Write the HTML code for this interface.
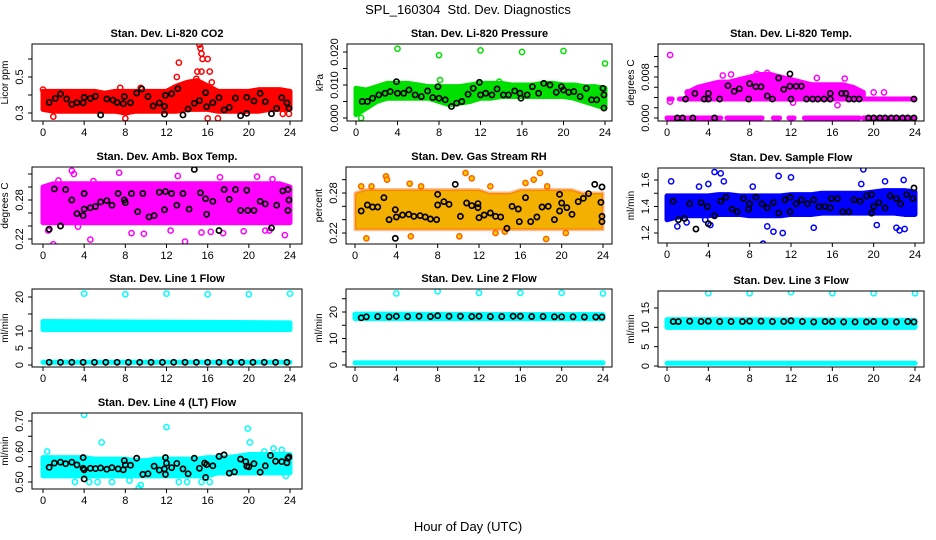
<!DOCTYPE html>
<html><head><meta charset="utf-8"><style>
body{margin:0;background:#fff;}
svg{display:block;font-family:"Liberation Sans",Arial,sans-serif;}
</style></head><body>
<svg id="chart" width="936" height="540" viewBox="0 0 936 540" xmlns="http://www.w3.org/2000/svg">
<rect width="936" height="540" fill="#fff"/>
<text x="468" y="14" font-size="13" text-anchor="middle">SPL_160304&#160; Std. Dev. Diagnostics</text>
<text x="468" y="531" font-size="13" text-anchor="middle">Hour of Day (UTC)</text>
</svg>
<script>
// ---------- data (hours, values) ----------
const hourGrid=[0,1,2,3,4,5,6,7,8,9,10,11,12,13,14,15,16,17,18,19,20,21,22,23,24];
const co2Lo=[.32,.31,.31,.31,.31,.31,.31,.31,.30,.31,.31,.31,.31,.31,.32,.32,.32,.31,.31,.31,.31,.31,.32,.32,.32];
const co2Hi=[.42,.42,.42,.42,.42,.42,.41,.42,.42,.42,.42,.42,.42,.45,.47,.48,.45,.42,.42,.42,.42,.43,.43,.43,.42];
const co2Out=[[15.2,.68],[15.3,.66],[15.4,.63],[15.5,.60],[16.0,.60],[13.2,.58],[13.0,.50],[15.0,.53],[15.4,.53],[16.2,.53],[7.5,.44],[1.0,.28],[8.0,.27],[16.0,.27],[17.0,.27],[23.3,.295],[23.9,.295],[0.0,.43],[9.5,.44],[12.8,.44],[14.9,.49],[16.4,.47]];
const co2Black=[[0.6,.359],[1.2,.381],[1.7,.406],[2.3,.378],[2.8,.348],[3.3,.357],[3.9,.356],[4.0,.387],[4.6,.381],[5.1,.393],[5.6,.289],[6.2,.378],[6.8,.372],[7.2,.359],[7.8,.352],[7.9,.391],[8.5,.357],[9.1,.411],[9.6,.433],[10.2,.391],[10.7,.339],[11.3,.356],[11.8,.337],[11.8,.294],[11.9,.398],[12.5,.407],[13.1,.435],[13.6,.289],[14.1,.322],[14.7,.354],[15.2,.369],[15.8,.413],[15.9,.335],[16.5,.357],[17.1,.385],[17.6,.317],[18.1,.331],[18.7,.383],[19.2,.285],[19.8,.298],[19.8,.387],[20.5,.367],[21.1,.409],[21.6,.363],[22.2,.296],[22.7,.326],[23.2,.385],[23.7,.356],[23.9,.326]];

const presLo=[.001,.003,.005,.006,.006,.006,.006,.006,.005,.004,.0045,.005,.006,.006,.0065,.0065,.0065,.0065,.0065,.0065,.0065,.006,.005,.004,.003];
const presHi=[.009,.0085,.0095,.0105,.0105,.0105,.010,.0095,.0095,.0095,.0095,.010,.0105,.0105,.0105,.010,.010,.010,.0105,.0105,.010,.010,.0095,.0095,.009];
const presOut=[[4,.021],[8,.019],[12,.0205],[16,.020],[20,.0203],[24,.0165],[8.1,.0115],[0.5,0],[13.8,.011]];
const presBlack=[[0.6,.005],[1.1,.005],[1.6,.006],[2.2,.007],[2.8,.0075],[3.3,.008],[3.9,.011],[4,.0075],[4.6,.0075],[5.1,.0085],[5.7,.007],[6.3,.0065],[6.9,.0082],[7.4,.0062],[7.9,.0095],[8,.006],[8.6,.0055],[9.2,.0035],[9.7,.0045],[10.2,.005],[10.8,.0072],[11.3,.009],[11.9,.0108],[12.0,.007],[12.5,.0075],[13.1,.007],[13.6,.0088],[14.2,.007],[14.7,.007],[15.3,.0082],[15.8,.0075],[15.9,.006],[16.5,.007],[17.0,.0095],[17.6,.0075],[18.1,.0105],[18.7,.01],[19.3,.0078],[19.8,.0095],[20,.0085],[20.5,.0078],[21.0,.008],[21.6,.0065],[22.2,.009],[22.7,.0055],[23.2,.0055],[23.8,.009],[23.9,.007],[23.9,.003]];

const tempBandHours=[2,3,4,5,6,7,8,9,10,11,12,13,14,15,16,17,18,19];
const tempLo=[.0045,.0045,.0045,.0045,.0045,.0045,.0045,.0045,.0045,.0045,.0045,.0045,.0045,.0045,.0045,.0045,.0045,.0045];
const tempHi=[.005,.006,.0065,.007,.007,.0075,.008,.0085,.0085,.008,.0075,.007,.0065,.0065,.0065,.0065,.006,.005];
const tempStripes=[[0,5.2,0],[5.8,9.2,0],[10.3,10.9,0],[11.8,12.3,0],[13.3,18.6,0],[19,24,0],[0.2,0.5,.0037],[1.2,24,.0037]];
const tempOut=[[0.3,.0123],[0.3,.0032],[6.2,.0085],[5.4,.0083],[17.2,.0077],[14.5,.0078],[20.0,.005],[21.0,.005],[16.5,.0025],[12.2,.003],[2,.005],[9.7,.0088],[8.7,.0086]];
const tempBlack=[[1,0],[1.5,0],[2.5,0],[4.6,0],[19.5,0],[20,0],[20.6,0],[21.1,0],[21.7,0],[22.2,0],[22.8,0],[23.3,0],[23.9,0],[1.8,.0037],[3.6,.0037],[4,.0037],[5.1,.0037],[7.9,.0037],[10.2,.0037],[12,.0037],[13.5,.0037],[14.1,.0037],[14.6,.0037],[15.2,.0037],[15.8,.0037],[17.6,.0037],[18.1,.0037],[18.6,.0037],[23.9,.0037],[2.7,.0048],[4,.0048],[5.9,.0063],[6.5,.0052],[7,.0057],[8,.0067],[8.6,.0061],[9.1,.0061],[9.7,.0043],[10.8,.0078],[11.3,.0056],[11.9,.0086],[11.9,.0062],[12.5,.0062],[13,.0062],[15.8,.0048],[16.9,.0048],[17.3,.0048]];

const ambLo=[.245,.245,.245,.245,.245,.245,.245,.245,.245,.245,.245,.245,.245,.245,.245,.245,.245,.245,.245,.245,.245,.245,.245,.245,.245];
const ambHi=[.30,.305,.305,.305,.305,.305,.305,.305,.305,.305,.305,.305,.305,.305,.305,.305,.305,.305,.305,.305,.305,.305,.305,.305,.30];
const ambOut=[[1,.212],[2.8,.325],[3,.32],[4.6,.219],[7.4,.322],[8.6,.229],[9.8,.228],[13.8,.216],[15.4,.23],[16.3,.231],[17.5,.229],[19.5,.232],[22,.233],[23.5,.226],[20.8,.316],[12.4,.233],[21.6,.233],[0.5,.233],[3.4,.239],[1.5,.31],[17.2,.315],[22.3,.312],[13.1,.317],[4.9,.309]];
const ambBlack=[[0.6,.235],[1.1,.297],[1.7,.24],[2.2,.296],[2.8,.28],[3.3,.259],[3.9,.256],[4.0,.29],[4.0,.266],[4.6,.268],[5.1,.27],[5.6,.277],[6.2,.279],[6.7,.272],[7.3,.29],[7.9,.28],[8.0,.276],[8.6,.29],[9.2,.262],[9.7,.29],[10.3,.254],[10.8,.256],[11.3,.292],[11.8,.265],[11.9,.293],[12.5,.29],[13.0,.272],[13.6,.29],[14.2,.266],[14.7,.327],[15.3,.291],[15.8,.282],[15.9,.258],[16.5,.278],[17.1,.233],[17.6,.296],[18.1,.281],[18.7,.296],[19.2,.264],[19.8,.295],[19.9,.264],[20.5,.264],[21.1,.278],[21.6,.274],[22.2,.237],[22.7,.272],[23.3,.294],[23.8,.296],[23.8,.264],[23.9,.28]];

const rhLo=[.225,.225,.225,.225,.225,.225,.225,.225,.225,.225,.225,.225,.225,.225,.225,.225,.225,.225,.225,.225,.225,.225,.225,.225,.225];
const rhHi=[.28,.285,.285,.285,.285,.285,.285,.285,.285,.285,.285,.285,.285,.28,.28,.28,.285,.285,.285,.285,.285,.285,.28,.28,.28];
const rhOut=[[0.6,.29],[1.6,.29],[3,.305],[3.1,.3],[5.3,.294],[6.4,.29],[10.7,.31],[11.3,.302],[13.1,.29],[17.9,.31],[17.3,.3],[16.5,.295],[18.6,.29],[1.1,.212],[5.4,.215],[10.1,.215],[18.5,.211],[20.4,.22],[14.5,.222],[13.6,.22]];
const rhBlack=[[0.6,.253],[1.2,.262],[1.7,.259],[2.2,.259],[2.8,.273],[3.3,.24],[3.9,.212],[3.9,.255],[4.0,.244],[4.6,.247],[5.2,.248],[5.7,.245],[6.3,.246],[6.8,.244],[7.3,.241],[7.9,.24],[8.0,.262],[8.0,.278],[8.6,.267],[9.1,.263],[9.7,.293],[10.2,.245],[10.8,.265],[11.3,.261],[11.9,.264],[11.9,.258],[12.0,.243],[12.5,.247],[13.1,.25],[13.6,.245],[14.1,.244],[14.7,.227],[15.2,.26],[15.8,.256],[15.9,.237],[16.5,.273],[17.0,.237],[17.6,.244],[18.1,.259],[18.7,.26],[19.3,.24],[19.8,.253],[19.8,.278],[20.0,.265],[20.5,.258],[21.0,.248],[21.6,.267],[22.1,.272],[22.6,.279],[23.2,.293],[23.8,.266],[23.9,.245],[23.9,.237],[23.9,.289]];

const flowLo=[1.30,1.32,1.33,1.33,1.33,1.34,1.34,1.34,1.33,1.33,1.33,1.33,1.34,1.34,1.34,1.35,1.35,1.35,1.35,1.35,1.35,1.35,1.35,1.34,1.34];
const flowHi=[1.48,1.48,1.48,1.48,1.48,1.49,1.49,1.48,1.48,1.48,1.48,1.48,1.49,1.49,1.49,1.50,1.50,1.50,1.50,1.50,1.51,1.52,1.52,1.52,1.51];
const flowOut=[[0.4,1.59],[1,1.25],[3.1,1.55],[4,1.57],[4.6,1.66],[5.2,1.65],[5.5,1.59],[9.3,1.12],[9.7,1.25],[10.3,1.21],[10.8,1.63],[11.2,1.2],[12,1.62],[14.2,1.24],[18.8,1.57],[19,1.68],[22.2,1.24],[22.5,1.22],[23,1.23],[22.9,1.6],[21.1,1.59],[8.3,1.55],[4.2,1.26],[20.3,1.26],[1.9,1.28],[3.7,1.3]];
const flowBlack=[[0.6,1.44],[1.1,1.3],[1.7,1.31],[2.2,1.42],[2.8,1.23],[3.3,1.43],[3.9,1.40],[4.0,1.27],[4.6,1.33],[5.2,1.44],[5.7,1.47],[6.3,1.38],[6.8,1.36],[7.4,1.46],[7.9,1.38],[8.0,1.42],[8.6,1.47],[9.2,1.42],[9.7,1.39],[10.3,1.43],[10.8,1.35],[11.4,1.45],[11.9,1.36],[11.9,1.47],[12.5,1.42],[13.0,1.45],[13.6,1.42],[14.2,1.45],[14.7,1.40],[15.3,1.40],[15.8,1.39],[15.9,1.46],[16.5,1.46],[17.0,1.36],[17.6,1.36],[18.1,1.45],[18.7,1.44],[19.3,1.48],[19.8,1.49],[19.8,1.35],[20.0,1.40],[20.5,1.43],[21.1,1.39],[21.6,1.48],[22.2,1.46],[22.6,1.42],[23.2,1.49],[23.8,1.46],[23.9,1.54]];

const lineBandHours=[0,24];
const l1Lo=[10.4,10.4], l1Hi=[12.8,12.4];
const l1Stripes=[[0,24,0.8]];
const l1Out=[[4,21],[8,20.8],[12,21],[16,20.8],[20,20.8],[24,21]];
const l1Black=[[0.6,.8],[1.7,.8],[2.8,.8],[3.9,.8],[5.0,.8],[6.1,.8],[7.2,.8],[8.3,.8],[9.4,.8],[10.5,.8],[11.6,.8],[12.7,.8],[13.8,.8],[14.9,.8],[16.0,.8],[17.1,.8],[18.2,.8],[19.3,.8],[20.4,.8],[21.5,.8],[22.6,.8],[23.7,.8]];
const l2Lo=[17.5,17.5], l2Hi=[19.2,19.0];
const l2Stripes=[[0,24,0.8]];
const l2Out=[[4,27],[8,27.8],[12,27.2],[16,27.2],[20,27.2],[24,27]];
const l2Black=[[0.6,17.8],[1.1,18.2],[2.2,18.3],[3.3,18.2],[4.0,18.4],[5.1,18.3],[6.2,18.4],[7.3,18.3],[8.0,18.6],[9.1,18.4],[10.2,18.4],[11.3,18.3],[12.0,18.4],[13.1,18.3],[14.2,18.3],[15.3,18.4],[16.0,18.4],[17.1,18.3],[18.2,18.3],[19.3,18.2],[20.0,18.2],[21.1,18.2],[22.2,18.1],[23.3,18.1],[23.9,18.1]];
const l3Lo=[10.0,10.0], l3Hi=[12.0,11.8];
const l3Stripes=[[0,24,0.7]];
const l3Out=[[4,18.8],[8,18.8],[12,19.1],[16,18.8],[20,18.8],[24,18.8]];
const l3Black=[[0.6,11.5],[1.1,11.5],[2.2,11.6],[3.3,11.5],[4.0,11.6],[5.1,11.5],[6.2,11.5],[7.3,11.5],[8.0,11.6],[9.1,11.6],[10.2,11.5],[11.3,11.5],[12.0,11.7],[13.1,11.5],[14.2,11.4],[15.3,11.5],[16.0,11.5],[17.1,11.4],[18.2,11.4],[19.3,11.4],[20.0,11.5],[21.1,11.4],[22.2,11.4],[23.3,11.5],[23.9,11.4]];
const l4Lo=[.52,.52,.52,.52,.52,.52,.52,.52,.52,.52,.52,.52,.52,.52,.52,.52,.52,.53,.53,.53,.53,.53,.53,.53,.53];
const l4Hi=[.58,.58,.58,.58,.58,.575,.575,.575,.575,.57,.57,.575,.575,.575,.575,.575,.58,.58,.58,.585,.59,.59,.59,.59,.59];
const l4Out=[[4,.72],[12,.68],[19.9,.675],[5.7,.63],[20.1,.63],[0.4,.60],[22.4,.61],[23.2,.605],[21.5,.60],[9.3,.48],[9.5,.49],[4.5,.50],[5.3,.50],[6.7,.50],[3.1,.50],[13.2,.50],[14,.50],[15.4,.50],[16.2,.50],[8.4,.505],[23.6,.52],[1.6,.525]];
const l4Black=[[0.6,.548],[1.1,.562],[1.7,.565],[2.2,.56],[2.8,.565],[3.3,.556],[3.9,.58],[3.9,.545],[4.0,.54],[4.0,.51],[4.6,.545],[5.1,.544],[5.6,.546],[6.2,.542],[6.7,.547],[7.3,.543],[7.8,.54],[7.9,.57],[8.0,.556],[8.5,.555],[9.1,.578],[9.7,.525],[10.2,.527],[10.8,.552],[11.3,.539],[11.8,.543],[11.9,.58],[12.0,.562],[11.9,.525],[12.5,.547],[13.0,.561],[13.6,.543],[14.1,.527],[14.7,.578],[15.2,.545],[15.8,.515],[15.7,.562],[15.9,.557],[16.5,.553],[17.1,.584],[17.6,.589],[18.1,.529],[18.6,.533],[19.2,.575],[19.7,.567],[19.8,.552],[20.0,.55],[20.5,.56],[21.1,.532],[21.6,.553],[22.1,.587],[22.6,.568],[23.2,.567],[23.7,.563],[23.8,.578],[23.9,.582]];

const xTicks=[0,4,8,12,16,20,24];
const xTickLabels=["0","4","8","12","16","20","24"];

// ---------- layout ----------
const panels=[
 {id:"co2",title:"Stan. Dev. Li-820 CO2",ylab:"Licor ppm",box:[32,44,302,121],xr:[43,290],ya:[0.3,113],yb:[0.5,77],ticks:[0.3,0.4,0.5,0.6],tl:["0.3","","0.5",""],col:"#ff0000",bx:hourGrid,lo:co2Lo,hi:co2Hi,out:co2Out,blk:co2Black},
 {id:"pressure",title:"Stan. Dev. Li-820 Pressure",ylab:"kPa",box:[347,44,612,121],xr:[356,605],ya:[0,118],yb:[0.02,52],ticks:[0,.005,.01,.015,.02],tl:["0.000","","0.010","","0.020"],col:"#00e000",bx:hourGrid,lo:presLo,hi:presHi,out:presOut,blk:presBlack},
 {id:"li820-temp",title:"Stan. Dev. Li-820 Temp.",ylab:"degrees C",box:[658,44,924,121],xr:[667,915],ya:[0,118],yb:[0.008,77],ticks:[0,.002,.004,.006,.008,.01,.012],tl:["0.000","","","","0.008","",""],col:"#ff00ff",bx:tempBandHours,lo:tempLo,hi:tempHi,stripes:tempStripes,out:tempOut,blk:tempBlack},
 {id:"amb-box-temp",title:"Stan. Dev. Amb. Box Temp.",ylab:"degrees C",box:[32,167,302,244],xr:[43,290],ya:[.22,239],yb:[.28,200],ticks:[.22,.24,.26,.28,.30,.32],tl:["0.22","","","0.28","",""],col:"#ff00ff",bx:hourGrid,lo:ambLo,hi:ambHi,out:ambOut,blk:ambBlack},
 {id:"gas-stream-rh",title:"Stan. Dev. Gas Stream RH",ylab:"percent",box:[346,167,612,244],xr:[355,603],ya:[.22,233],yb:[.28,193],ticks:[.22,.24,.26,.28,.30],tl:["0.22","","","0.28",""],col:"#f4b000",ocol:"#ff6000",bx:hourGrid,lo:rhLo,hi:rhHi,out:rhOut,blk:rhBlack},
 {id:"sample-flow",title:"Stan. Dev. Sample Flow",ylab:"ml/min",box:[658,168,924,243],xr:[667,915],ya:[1.2,233],yb:[1.6,180],ticks:[1.2,1.3,1.4,1.5,1.6],tl:["1.2","","1.4","","1.6"],col:"#0000ff",bx:hourGrid,lo:flowLo,hi:flowHi,out:flowOut,blk:flowBlack},
 {id:"line1-flow",title:"Stan. Dev. Line 1 Flow",ylab:"ml/min",box:[32,289,302,367],xr:[43,290],ya:[0,365],yb:[20,297],ticks:[0,5,10,15,20],tl:["0","5","10","","20"],col:"#00ffff",bx:lineBandHours,lo:l1Lo,hi:l1Hi,stripes:l1Stripes,out:l1Out,blk:l1Black},
 {id:"line2-flow",title:"Stan. Dev. Line 2 Flow",ylab:"ml/min",box:[346,289,612,367],xr:[355,603],ya:[0,365],yb:[20,312],ticks:[0,5,10,15,20,25],tl:["0","","10","","20",""],col:"#00ffff",bx:lineBandHours,lo:l2Lo,hi:l2Hi,stripes:l2Stripes,out:l2Out,blk:l2Black},
 {id:"line3-flow",title:"Stan. Dev. Line 3 Flow",ylab:"ml/min",box:[658,291,924,367],xr:[667,915],ya:[0,366],yb:[15,308],ticks:[0,5,10,15],tl:["0","5","10","15"],col:"#00ffff",bx:lineBandHours,lo:l3Lo,hi:l3Hi,stripes:l3Stripes,out:l3Out,blk:l3Black},
 {id:"line4-flow",title:"Stan. Dev. Line 4 (LT) Flow",ylab:"ml/min",box:[32,413,302,489],xr:[43,290],ya:[.5,482],yb:[.7,421],ticks:[.5,.55,.6,.65,.7],tl:["0.50","","0.60","","0.70"],col:"#00ffff",bx:hourGrid,lo:l4Lo,hi:l4Hi,out:l4Out,blk:l4Black}
];

const NS="http://www.w3.org/2000/svg";
const svg=document.getElementById("chart");
function mk(tag,attrs,parent){const e=document.createElementNS(NS,tag);for(const k in attrs)e.setAttribute(k,attrs[k]);(parent||svg).appendChild(e);return e;}

panels.forEach(p=>{
  const g=mk("g",{});
  
  
  const [L,T,R,B]=p.box;
  const sx=h=>p.xr[0]+h*(p.xr[1]-p.xr[0])/24;
  const k=(p.ya[1]-p.yb[1])/(p.yb[0]-p.ya[0]);
  const sy=v=>p.ya[1]-(v-p.ya[0])*k;
  const clip=mk("clipPath",{id:"c-"+p.id},g);
  mk("rect",{x:L,y:T,width:R-L,height:B-T},clip);
  const data=mk("g",{"clip-path":"url(#c-"+p.id+")"},g);
  let pts=[];
  p.bx.forEach((h,i)=>pts.push(sx(h)+","+sy(p.hi[i])));
  for(let i=p.bx.length-1;i>=0;i--)pts.push(sx(p.bx[i])+","+sy(p.lo[i]));
  const band=mk("polygon",{points:pts.join(" "),fill:p.col,stroke:p.col,"stroke-width":5,"stroke-linejoin":"round"},data);
  
  
  if(p.ocol){band.setAttribute('stroke',p.ocol);band.setAttribute('stroke-opacity','0.45');band.setAttribute('stroke-width','3');}
  (p.stripes||[]).forEach(s=>{
    const l=mk("line",{x1:sx(s[0]),x2:sx(s[1]),y1:sy(s[2]),y2:sy(s[2]),stroke:p.col,"stroke-width":5,"stroke-linecap":"round"},data);
    
    
  });
  p.out.forEach(d=>{
    const c=mk("circle",{cx:sx(d[0]),cy:sy(d[1]),r:2.6,fill:p.ocol?"#ffd000":"none",stroke:p.ocol||p.col,"stroke-width":1.5},data);
    
    
  });
  p.blk.forEach(d=>{
    const c=mk("circle",{cx:sx(d[0]),cy:sy(d[1]),r:2.6,fill:"none",stroke:"#000","stroke-width":1.7},data);
    
    
  });
  const bx=mk("rect",{x:L,y:T,width:R-L,height:B-T,fill:"none",stroke:"#000","stroke-width":1},g);
  
  
  const t=mk("text",{x:(L+R)/2,y:T-7,"font-size":11,"font-weight":"bold","text-anchor":"middle"},g);
  t.textContent=p.title;
  
  
  const xa=mk("g",{},g);
  
  
  mk("line",{x1:sx(0),x2:sx(24),y1:B,y2:B,stroke:"#000"},xa);
  xTicks.forEach((h,i)=>{
    mk("line",{x1:sx(h),x2:sx(h),y1:B,y2:B+4,stroke:"#000"},xa);
    const tx=mk("text",{x:sx(h),y:B+15,"font-size":11,"text-anchor":"middle"},xa);
    tx.textContent=xTickLabels[i];
    
    
  });
  const ya=mk("g",{},g);
  
  
  mk("line",{x1:L,x2:L,y1:sy(p.ticks[0]),y2:sy(p.ticks[p.ticks.length-1]),stroke:"#000"},ya);
  p.ticks.forEach((v,i)=>{
    const y=sy(v);
    mk("line",{x1:L-4,x2:L,y1:y,y2:y,stroke:"#000"},ya);
    if(p.tl[i]){
      const tx=mk("text",{x:L-9,y:y,"font-size":11,"text-anchor":"middle",transform:"rotate(-90 "+(L-9)+" "+y+")"},ya);
      tx.textContent=p.tl[i];
      
      
    }
  });
  const yl=mk("text",{x:L-24,y:(T+B)/2,"font-size":10,"text-anchor":"middle",transform:"rotate(-90 "+(L-24)+" "+(T+B)/2+")"},ya);
  yl.textContent=p.ylab;
  
  
});
</script>
</body></html>
